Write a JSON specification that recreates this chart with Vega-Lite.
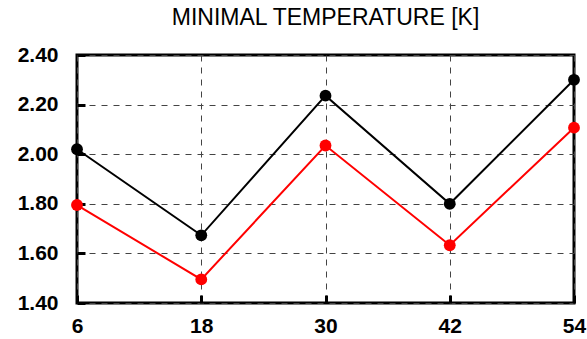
{
  "$schema": "https://vega.github.io/schema/vega-lite/v6.json",
  "width": 497,
  "height": 248,
  "autosize": "none",
  "padding": {"left": 77, "top": 55, "right": 13, "bottom": 36},
  "background": "white",
  "title": {"text": "MINIMAL TEMPERATURE [K]", "font": "Liberation Sans", "fontSize": 23, "fontWeight": "normal", "color": "black", "offset": 14, "anchor": "middle"},
  "config": {
    "view": {"stroke": "black", "strokeWidth": 3},
    "axis": {"domain": false, "labelFont": "Liberation Sans", "labelFontSize": 21, "labelFontWeight": "bold", "labelColor": "black", "gridColor": "#444", "gridDash": [6, 6], "gridWidth": 1, "gridOpacity": 1, "tickColor": "black", "tickWidth": 3, "tickSize": -8, "title": null}
  },
  "data": {"values": [
    {"x": 6, "y": 2.02, "s": "a"},
    {"x": 18, "y": 1.673, "s": "a"},
    {"x": 30, "y": 2.236, "s": "a"},
    {"x": 42, "y": 1.80, "s": "a"},
    {"x": 54, "y": 2.30, "s": "a"},
    {"x": 6, "y": 1.795, "s": "b"},
    {"x": 18, "y": 1.495, "s": "b"},
    {"x": 30, "y": 2.035, "s": "b"},
    {"x": 42, "y": 1.633, "s": "b"},
    {"x": 54, "y": 2.107, "s": "b"}
  ]},
  "encoding": {
    "x": {"field": "x", "type": "quantitative", "scale": {"domain": [6, 54], "nice": false, "zero": false}, "axis": {"values": [6, 18, 30, 42, 54], "labelPadding": 20, "labelFlush": false}},
    "y": {"field": "y", "type": "quantitative", "scale": {"domain": [1.4, 2.4], "nice": false, "zero": false}, "axis": {"values": [1.4, 1.6, 1.8, 2.0, 2.2, 2.4], "format": ".2f", "labelPadding": 27}},
    "color": {"field": "s", "type": "nominal", "scale": {"domain": ["a", "b"], "range": ["black", "#ff0000"]}, "legend": null}
  },
  "layer": [
    {"mark": {"type": "line", "strokeWidth": 2, "clip": false}},
    {"mark": {"type": "point", "filled": true, "opacity": 1, "size": 140, "clip": false}}
  ]
}
